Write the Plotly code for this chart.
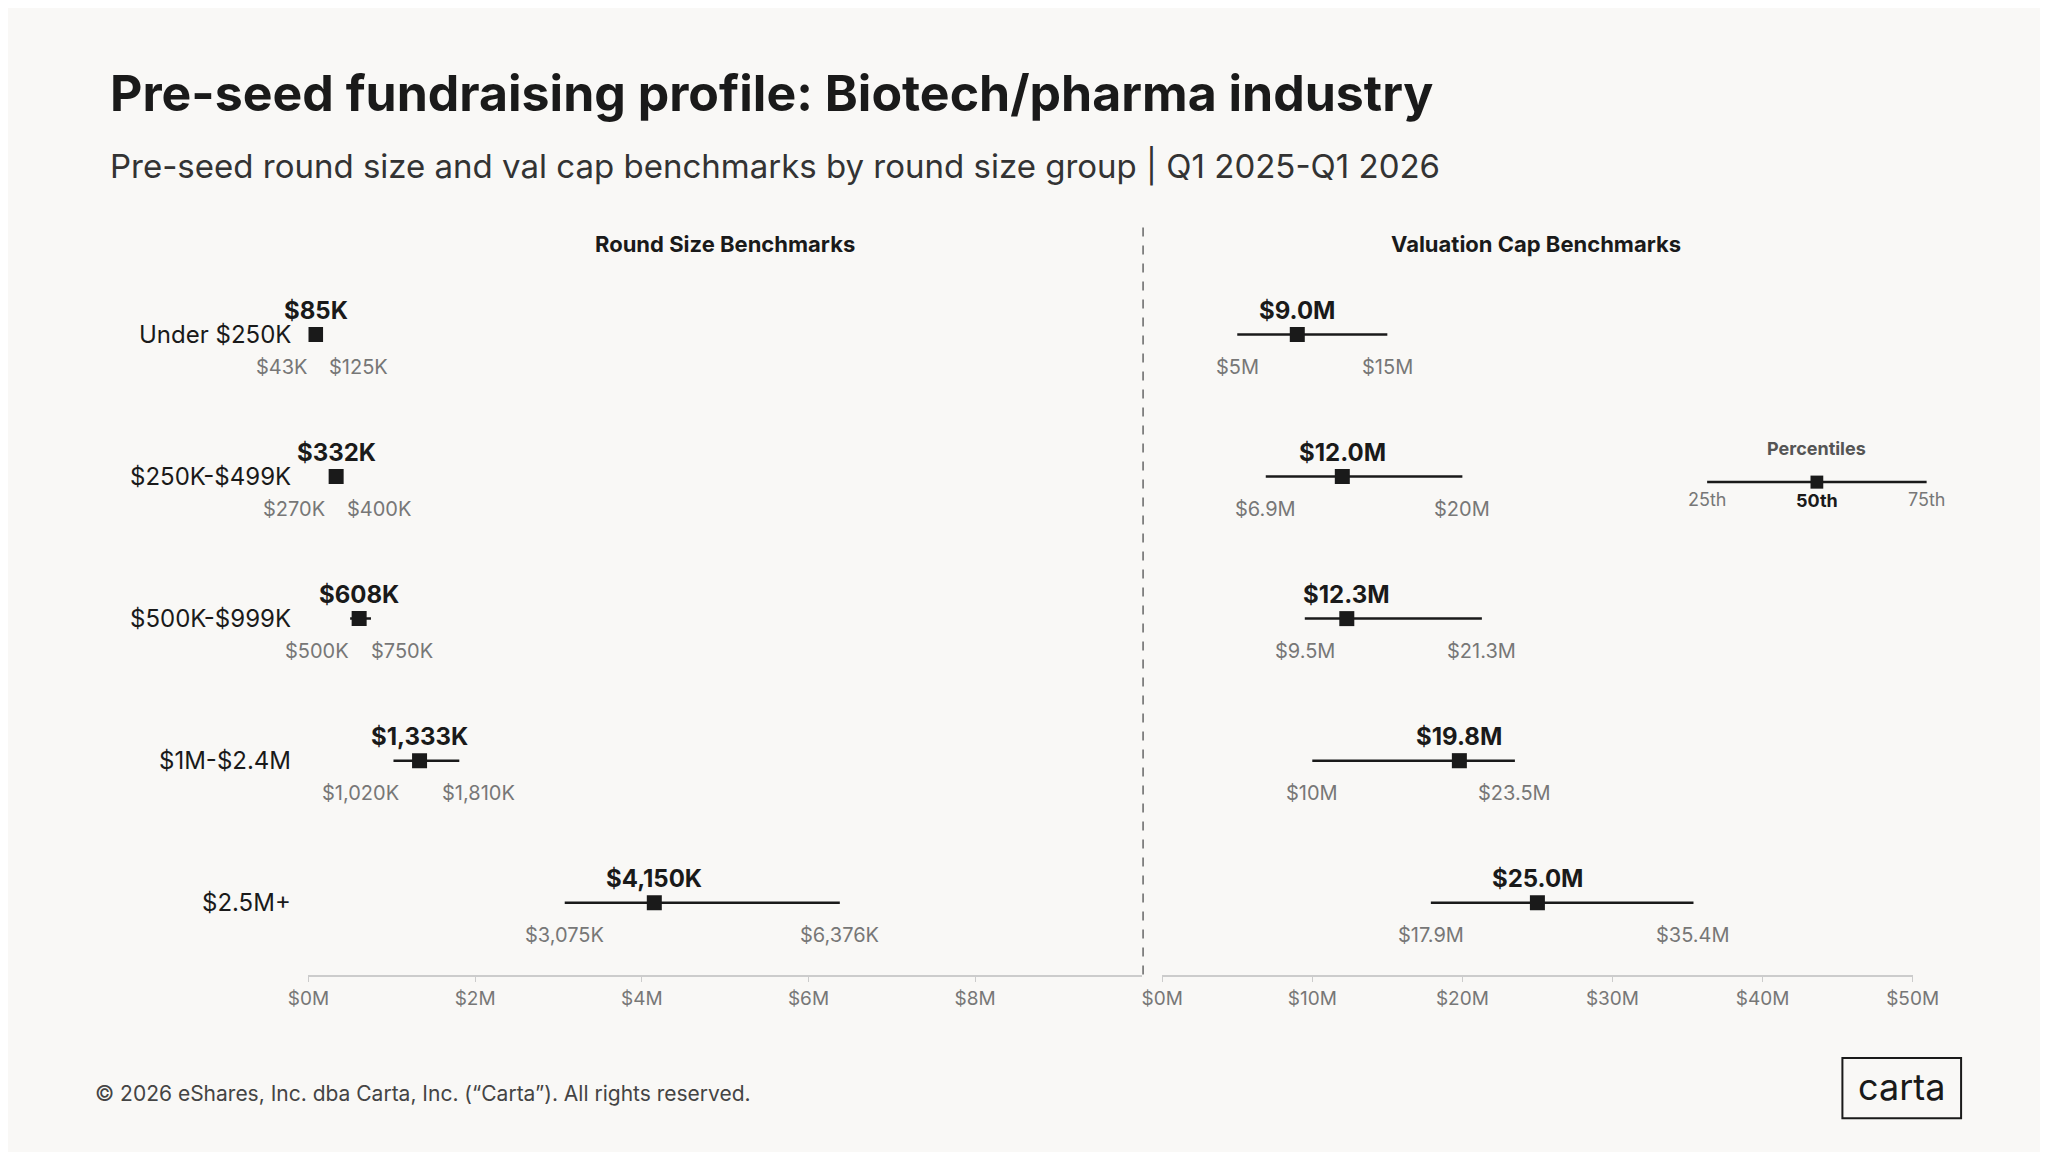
import plotly.graph_objects as go

groups = ["Under $250K", "$250K-$499K", "$500K-$999K", "$1M-$2.4M", "$2.5M+"]
round_p25 = [43, 270, 500, 1020, 3075]      # $K
round_p50 = [85, 332, 608, 1333, 4150]
round_p75 = [125, 400, 750, 1810, 6376]
val_p25 = [5, 6.9, 9.5, 10, 17.9]           # $M
val_p50 = [9.0, 12.0, 12.3, 19.8, 25.0]
val_p75 = [15, 20, 21.3, 23.5, 35.4]

BG = "#f9f8f6"
INK = "#1a1a1a"
GREY = "#777777"
FONT = "Inter"
W, H = 2048, 1152
PX_PER_M = (872 - 219) / 1568 * W / 10   # left axis, figure pixels per $1M


def px(x):
    return x / 1568


def py(y):
    return 1 - y / 882


def mfmt(v, dec=False):
    if dec:
        return f"${v:.1f}M"
    return f"${v:g}M"


fig = go.Figure()
ys = list(range(len(groups)))

for i in ys:
    fig.add_trace(go.Scatter(x=[round_p25[i] / 1000, round_p75[i] / 1000], y=[i, i], mode="lines",
                             line=dict(color=INK, width=2.5), xaxis="x", yaxis="y", showlegend=False, hoverinfo="skip"))
    fig.add_trace(go.Scatter(x=[val_p25[i], val_p75[i]], y=[i, i], mode="lines",
                             line=dict(color=INK, width=2.5), xaxis="x2", yaxis="y2", showlegend=False, hoverinfo="skip"))

fig.add_trace(go.Scatter(x=[v / 1000 for v in round_p50], y=ys, mode="markers",
                         marker=dict(symbol="square", size=15, color=INK), xaxis="x", yaxis="y", showlegend=False))
fig.add_trace(go.Scatter(x=val_p50, y=ys, mode="markers",
                         marker=dict(symbol="square", size=15, color=INK), xaxis="x2", yaxis="y2", showlegend=False))

ann = []
for i in ys:
    lo, mid, hi = round_p25[i] / 1000, round_p50[i] / 1000, round_p75[i] / 1000
    lo_txt = f"${round_p25[i]:,}K"
    hi_txt = f"${round_p75[i]:,}K"
    # push percentile labels outward so they clear the median marker
    lo_shift = (min(lo, mid - 0.1 * len(lo_txt)) - lo) * PX_PER_M
    hi_shift = (max(hi, mid + 0.1 * len(hi_txt)) - hi) * PX_PER_M
    ann.append(dict(x=mid, y=i, xref="x", yref="y", text=f"<b>${round_p50[i]:,}K</b>",
                    xanchor="center", yshift=24, showarrow=False, font=dict(size=24, color=INK)))
    ann.append(dict(x=lo, y=i, xref="x", yref="y", text=lo_txt, xanchor="center", xshift=lo_shift,
                    yshift=-32, showarrow=False, font=dict(size=20, color=GREY)))
    ann.append(dict(x=hi, y=i, xref="x", yref="y", text=hi_txt, xanchor="center", xshift=hi_shift,
                    yshift=-32, showarrow=False, font=dict(size=20, color=GREY)))
    ann.append(dict(x=val_p50[i], y=i, xref="x2", yref="y2", text=f"<b>{mfmt(val_p50[i], True)}</b>",
                    xanchor="center", yshift=24, showarrow=False, font=dict(size=24, color=INK)))
    ann.append(dict(x=val_p25[i], y=i, xref="x2", yref="y2", text=mfmt(val_p25[i]), xanchor="center",
                    yshift=-32, showarrow=False, font=dict(size=20, color=GREY)))
    ann.append(dict(x=val_p75[i], y=i, xref="x2", yref="y2", text=mfmt(val_p75[i]), xanchor="center",
                    yshift=-32, showarrow=False, font=dict(size=20, color=GREY)))
    ann.append(dict(x=px(207), y=i, xref="paper", yref="y", text=groups[i], xanchor="right",
                    showarrow=False, font=dict(size=24, color=INK)))


def note(x, y, text, size, color, anchor="center"):
    return dict(x=px(x), y=py(y), xref="paper", yref="paper", xanchor=anchor, yanchor="middle",
                showarrow=False, text=text, font=dict(size=size, color=color))


ann += [
    note(62, 65, "<b>Pre-seed fundraising profile: Biotech/pharma industry</b>", 50, INK, "left"),
    note(62, 121, "Pre-seed round size and val cap benchmarks by round size group | Q1 2025-Q1 2026", 33, "#333333", "left"),
    note(545, 181, "<b>Round Size Benchmarks</b>", 22, INK),
    note(1181, 181, "<b>Valuation Cap Benchmarks</b>", 22, INK),
    note(50, 831, "© 2026 eShares, Inc. dba Carta, Inc. (“Carta”). All rights reserved.", 21, "#444444", "left"),
    note(1467, 826, "carta", 36, INK),
    note(1401, 337, "<b>Percentiles</b>", 18, "#555555"),
    note(1315, 376, "25th", 18, GREY),
    note(1401, 377, "<b>50th</b>", 18, INK),
    note(1487, 376, "75th", 18, GREY),
]

shapes = [
    dict(type="line", xref="paper", yref="paper", x0=px(873), x1=px(873), y0=py(168), y1=py(745),
         line=dict(color="#666666", width=1.5, dash="dash")),
    dict(type="line", xref="paper", yref="paper", x0=px(1315), x1=px(1487), y0=py(363), y1=py(363),
         line=dict(color=INK, width=2.5)),
    dict(type="rect", xref="paper", yref="paper", x0=px(1396), x1=px(1406), y0=py(358), y1=py(368),
         line=dict(width=0), fillcolor=INK),
    dict(type="rect", xref="paper", yref="paper", x0=px(1421), x1=px(1514), y0=py(850), y1=py(804),
         line=dict(color=INK, width=2)),
]

yr = [(740 - 250) / 108.75, (195 - 250) / 108.75]
ydom = [py(740), py(195)]
axis_common = dict(showgrid=False, zeroline=False, showline=True, linecolor="#cccccc", linewidth=1.5,
                   ticks="outside", ticklen=6, tickcolor="#cccccc",
                   tickfont=dict(size=19, color=GREY))

fig.update_layout(
    width=W, height=H, margin=dict(l=0, r=0, t=0, b=0),
    paper_bgcolor=BG, plot_bgcolor=BG, font=dict(family=FONT),
    xaxis=dict(domain=[px(219), px(872)], range=[0, 10], tickvals=[0, 2, 4, 6, 8],
               ticktext=["$0M", "$2M", "$4M", "$6M", "$8M"], anchor="y", **axis_common),
    yaxis=dict(domain=ydom, range=yr, visible=False),
    xaxis2=dict(domain=[px(888), px(1476)], range=[0, 50], tickvals=[0, 10, 20, 30, 40, 50],
                ticktext=["$0M", "$10M", "$20M", "$30M", "$40M", "$50M"], anchor="y2", **axis_common),
    yaxis2=dict(domain=ydom, range=yr, visible=False, anchor="x2"),
    annotations=ann, shapes=shapes,
)

fig.write_html("out.html")
